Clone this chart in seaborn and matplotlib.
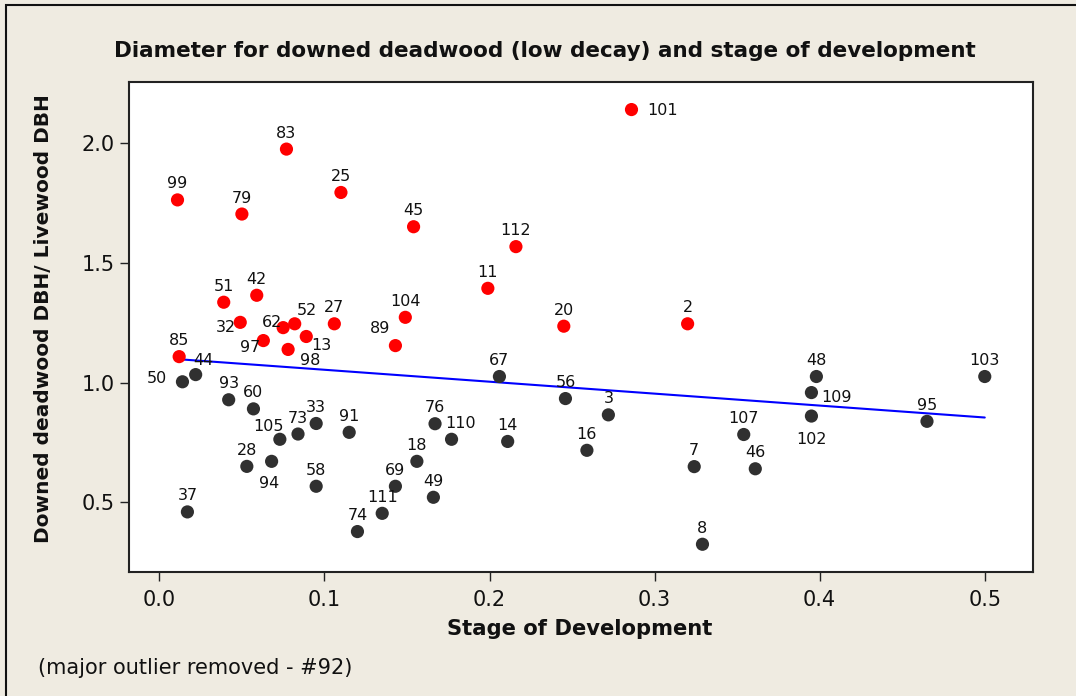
import numpy as np
import pandas as pd
import seaborn as sns
import matplotlib.pyplot as plt
from matplotlib.patches import Rectangle

# tree ids with stage of development (x) and DBH ratio (y)
tree_id = [99, 79, 83, 25, 45, 101, 112, 11, 51, 42, 104, 32, 62, 52, 27, 20, 2,
           97, 98, 13, 89, 85, 44, 50, 93, 60, 105, 73, 33, 91, 28, 94, 58, 37,
           74, 111, 69, 18, 49, 76, 110, 14, 67, 56, 3, 16, 7, 8, 107, 46, 48,
           109, 102, 95, 103]
stage = [0.011, 0.050, 0.077, 0.110, 0.154, 0.286, 0.216, 0.199, 0.039, 0.059,
         0.149, 0.049, 0.075, 0.082, 0.106, 0.245, 0.320, 0.063, 0.078, 0.089,
         0.143, 0.012, 0.022, 0.014, 0.042, 0.057, 0.073, 0.084, 0.095, 0.115,
         0.053, 0.068, 0.095, 0.017, 0.120, 0.135, 0.143, 0.156, 0.166, 0.167,
         0.177, 0.211, 0.206, 0.246, 0.272, 0.259, 0.324, 0.329, 0.354, 0.361,
         0.398, 0.395, 0.395, 0.465, 0.500]
ratio = [1.762, 1.703, 1.974, 1.793, 1.650, 2.139, 1.567, 1.393, 1.335, 1.364,
         1.272, 1.251, 1.229, 1.245, 1.245, 1.235, 1.245, 1.175, 1.138, 1.192,
         1.154, 1.108, 1.033, 1.003, 0.928, 0.890, 0.763, 0.785, 0.829, 0.792,
         0.650, 0.671, 0.567, 0.460, 0.378, 0.454, 0.567, 0.671, 0.521, 0.828,
         0.763, 0.754, 1.025, 0.933, 0.865, 0.717, 0.649, 0.325, 0.783, 0.640,
         1.025, 0.958, 0.860, 0.838, 1.025]

x_ticks = [0.0, 0.1, 0.2, 0.3, 0.4, 0.5]
y_ticks = [0.5, 1.0, 1.5, 2.0]

df = pd.DataFrame({'id': tree_id, 'stage': stage, 'ratio': ratio})
df['group'] = np.where(df['ratio'] > 1.1, 'high', 'low')

# label offsets in pixels (default: centred above the point)
label_pos = {101: (31, -1), 50: (-26, 3), 32: (-14, -5), 62: (-11, 5), 52: (12, 13),
             97: (-13, -7), 13: (15, -9), 98: (22, -11), 89: (-15, 17), 44: (8, 14),
             105: (-11, 13), 110: (9, 16), 109: (25, -5), 102: (0, -23), 94: (-2, -22)}

bg = '#efebe1'
sns.set_style('white')
plt.rcParams['font.family'] = ['DejaVu Sans']

fig = plt.figure(figsize=(10.76, 6.96), dpi=100, facecolor=bg)
ax = fig.add_axes([129.3 / 1076, 1 - 572.3 / 696, 904 / 1076, 490.3 / 696])
ax.set_facecolor('white')

sns.regplot(data=df, x='stage', y='ratio', scatter=False, ci=None, ax=ax,
            line_kws={'color': '#0000ff', 'lw': 1.5, 'zorder': 1})
sns.scatterplot(data=df, x='stage', y='ratio', hue='group', ax=ax, s=90,
                palette={'high': '#ff0000', 'low': '#303030'}, edgecolor='none',
                legend=False, zorder=2)

for _, r in df.iterrows():
    dx, dy = label_pos.get(r['id'], (0, 16))
    ax.annotate(str(int(r['id'])), (r['stage'], r['ratio']), xytext=(dx, dy),
                textcoords='offset pixels', ha='center', va='center',
                fontsize=11.5, color='#111111')

ax.set_xlim(-0.0182, 0.5294)
ax.set_ylim(0.208, 2.254)
ax.set_xticks(x_ticks)
ax.set_yticks(y_ticks)
ax.set_xticklabels([f'{v:.1f}' for v in x_ticks])
ax.set_yticklabels([f'{v:.1f}' for v in y_ticks])
ax.tick_params(direction='out', length=6.5, width=1, color='#222222',
               labelsize=15, labelcolor='#111111', bottom=True, left=True)
ax.tick_params(axis='x', pad=6)
ax.tick_params(axis='y', pad=4)
for sp in ax.spines.values():
    sp.set_visible(True)
    sp.set_color('#222222')
    sp.set_linewidth(1.5)
ax.set_xlabel('')
ax.set_ylabel('')

fig.text(545 / 1076, 1 - 51 / 696, 'Diameter for downed deadwood (low decay) and stage of development',
         ha='center', va='center', fontsize=15.5, fontweight='bold', color='#111111')
fig.text(580 / 1076, 1 - 629 / 696, 'Stage of Development', ha='center', va='center',
         fontsize=15.2, fontweight='bold', color='#111111')
fig.text(44 / 1076, 1 - 319 / 696, 'Downed deadwood DBH/ Livewood DBH', ha='center',
         va='center', rotation=90, fontsize=14.5, fontweight='bold', color='#111111')
fig.text(38 / 1076, 1 - 668 / 696, '(major outlier removed - #92)', ha='left', va='center',
         fontsize=15, color='#111111')

fig.add_artist(Rectangle((6 / 1076, -0.1), 2, 1.1 - 5 / 696, transform=fig.transFigure,
                         fill=False, edgecolor='#111111', lw=1.5))

fig.savefig('out.png', dpi=100, facecolor=bg)
